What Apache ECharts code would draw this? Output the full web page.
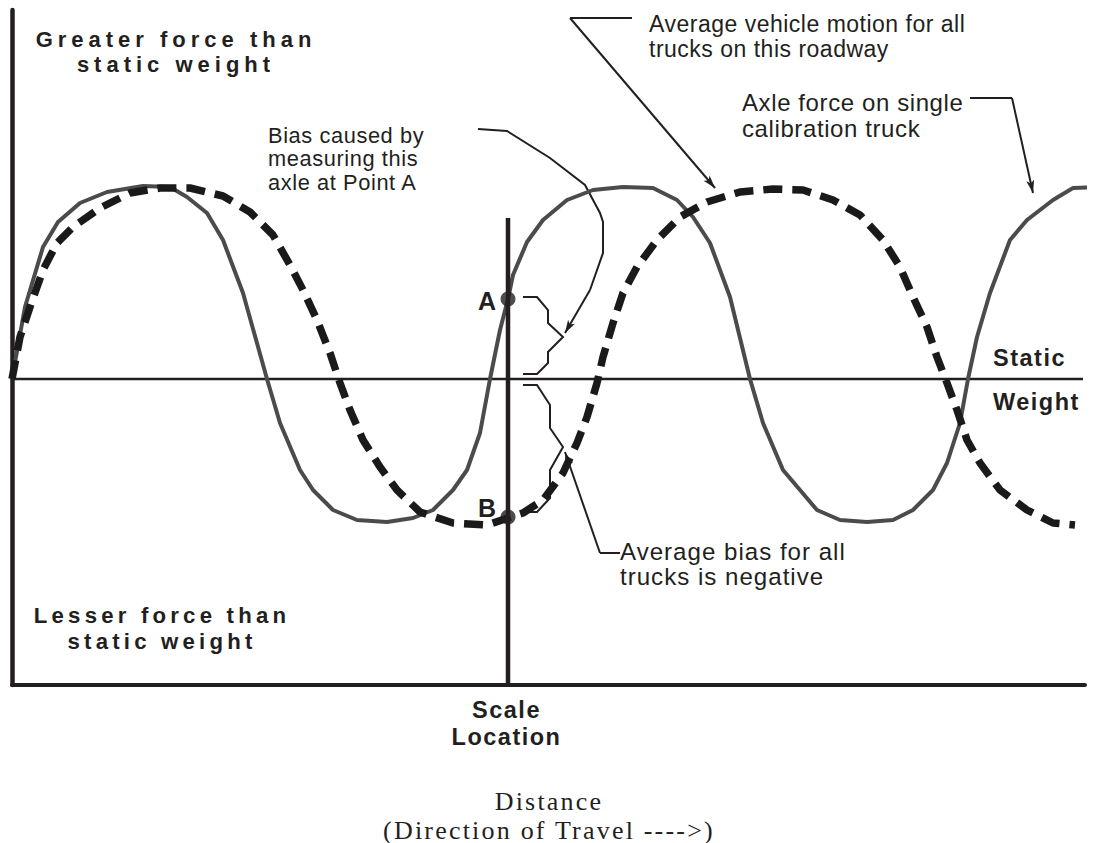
<!DOCTYPE html>
<html>
<head>
<meta charset="utf-8">
<title>Axle force and scale location</title>
<script src="https://cdn.jsdelivr.net/npm/echarts@6/dist/echarts.min.js"></script>
<style>
  html, body { margin: 0; padding: 0; background: #fff; }
  #main { width: 1102px; height: 843px; }
  /* spaced-out lettering like the original pdf, keyed on font size */
  #main text[style*="22px"] { letter-spacing: 5px; }
  #main text[style*="22.2px"] { letter-spacing: 4.2px; }
  #main text[style*="21.8px"] { letter-spacing: 0.6px; }
  #main text[style*="23px"] { letter-spacing: 0.5px; }
  #main text[style*="24px"] { letter-spacing: 0.6px; }
  #main text[style*="24.1px"] { letter-spacing: 1px; }
  #main text[style*="23.5px"] { letter-spacing: 1.5px; }
  #main text[style*="26px"] { letter-spacing: 2.2px; }
</style>
</head>
<body>
<div id="main"></div>
<script>
// distance along the road (x) and force relative to static weight (y)
// axle force on the single calibration truck (solid grey)
var calibDist  = [0,13,31,46,68,95,131,158,175,195,211,231,255,268,288,301,321,345,375,401,421,441,455,468,478,488,496,501,515,531,555,581,611,641,665,681,698,718,738,751,771,788,805,828,855,881,901,921,935,948,956,965,978,998,1015,1041,1061,1088];
var calibForce = [0,72,132,157,176,187,193,192,182,166,139,86,0,-44,-91,-111,-131,-141,-143,-139,-131,-111,-91,-54,0,49,80,104,137,159,179,189,192,191,179,162,136,82,0,-44,-91,-111,-131,-141,-143,-141,-131,-111,-84,-44,0,42,86,139,159,179,191,192];
// average vehicle motion for all trucks (dashed)
var avgDist  = [0,8,18,31,45,61,88,118,148,178,211,238,261,278,291,305,318,328,338,351,368,385,408,441,475,496,511,531,551,565,575,585,591,601,611,625,645,668,695,728,761,791,821,848,871,888,901,915,925,935,945,955,968,988,1015,1041,1063];
var avgForce = [0,42,72,109,136,152,171,186,191,191,183,167,144,114,89,59,26,-4,-31,-61,-88,-111,-133,-144,-146,-139,-134,-121,-94,-64,-38,-4,22,56,86,112,139,162,177,187,190,189,179,164,139,112,82,52,22,-4,-31,-61,-84,-111,-131,-144,-146];

// scale location and the two measured points
var scaleDist = 496;
var scaleTop = 161;
var pointNames = ['A', 'B'];
var pointForce = [80, -138];
var staticEnd = 1071;

// braces and leader lines (data space)
var braceUpper = [[511,82],[525,82],[536,69],[536,56],[551,42],[536,27],[536,16],[525,5],[511,5]];
var braceLower = [[511,-6],[525,-6],[538,-26],[538,-49],[551,-68],[538,-91],[538,-119],[525,-133],[511,-133]];
var leaderBias = [[466,250],[495,248],[538,221],[573,194],[588,166],[591,157],[591,126],[578,89]];
var leaderAvgBias = [[608,-174],[588,-174]];
var leaderMotion = [[620,361],[558,361]];
var leaderAxle = [[958,281],[1000,281]];
var arrowSegs = [
  [[578,89],[553,46]],
  [[588,-174],[553,-73]],
  [[558,361],[703,191]],
  [[1000,281],[1021,186]]
];

function zip(xs, ys) {
  var out = [];
  for (var i = 0; i < xs.length; i++) out.push([xs[i], ys[i]]);
  return out;
}

var ink = '#231f20';
var sans = "'Liberation Sans', Arial, Helvetica, sans-serif";
var serif = "'Liberation Serif', 'Times New Roman', serif";

// text block: y is the top of the block, lh the line height
function txt(s, x, y, size, weight, align, lh, family) {
  return {
    type: 'text', x: x, y: y, silent: true, z: 100,
    style: {
      text: s, fontSize: size, fontWeight: weight || 'normal',
      fontFamily: family || sans, fill: ink, lineHeight: lh || size,
      align: align || 'left', verticalAlign: 'top',
      textAlign: align || 'left', textVerticalAlign: 'top'
    }
  };
}

var chart = echarts.init(document.getElementById('main'), null, { renderer: 'svg' });

var option = {
  animation: false,
  backgroundColor: '#ffffff',
  grid: { left: 12, right: 17, top: 10, bottom: 158 },
  xAxis: {
    type: 'value', min: 0, max: 1073,
    axisLine: { show: true, onZero: false, lineStyle: { color: ink, width: 4 } },
    axisTick: { show: false }, axisLabel: { show: false }, splitLine: { show: false }
  },
  yAxis: {
    type: 'value', min: -306, max: 369,
    axisLine: { show: true, onZero: false, lineStyle: { color: ink, width: 4.5 } },
    axisTick: { show: false }, axisLabel: { show: false }, splitLine: { show: false }
  },
  series: [
    {
      name: 'Static weight', type: 'line', silent: true, showSymbol: false,
      data: [[0, 0], [staticEnd, 0]],
      lineStyle: { color: ink, width: 2.5 }
    },
    {
      name: 'Axle force on single calibration truck', type: 'line', silent: true,
      showSymbol: false, clip: false,
      data: zip(calibDist, calibForce),
      lineStyle: { color: '#4b4b4d', width: 4 }
    },
    {
      name: 'Average vehicle motion', type: 'line', silent: true,
      showSymbol: false, clip: false,
      data: zip(avgDist, avgForce),
      lineStyle: { color: '#1a1a1a', width: 7.5, type: [19, 10], cap: 'butt' }
    },
    {
      name: 'Scale location', type: 'line', silent: true, showSymbol: false,
      data: [[scaleDist, -306], [scaleDist, scaleTop]],
      lineStyle: { color: ink, width: 4.5 }
    },
    {
      type: 'lines', coordinateSystem: 'cartesian2d', polyline: true, silent: true,
      symbol: ['none', 'none'],
      lineStyle: { color: ink, width: 2, opacity: 1, curveness: 0 },
      data: [braceUpper, braceLower, leaderBias, leaderAvgBias, leaderMotion, leaderAxle]
        .map(function (c) { return { coords: c }; })
    },
    {
      type: 'lines', coordinateSystem: 'cartesian2d', silent: true,
      symbol: ['none', 'arrow'], symbolSize: [0, [6, 13]],
      lineStyle: { color: ink, width: 2, opacity: 1, curveness: 0 },
      data: arrowSegs.map(function (c) { return { coords: c }; })
    },
    {
      type: 'scatter', silent: true, symbolSize: 15,
      itemStyle: { color: ink },
      data: pointNames.map(function (n, i) { return [scaleDist, pointForce[i]]; }),
      z: 5
    }
  ],
  graphic: [
    txt('Greater force than\nstatic weight', 176, 26.5, 22, 'bold', 'center', 25),
    txt('Lesser force than\nstatic weight', 162, 602, 22.2, 'bold', 'center', 26),
    txt('Bias caused by\nmeasuring this\naxle at Point A', 268, 123.25, 21.8, 'normal', 'left', 23.5),
    txt('Average vehicle motion for all\ntrucks on this roadway', 649, 11.5, 23, 'normal', 'left', 25),
    txt('Axle force on single\ncalibration truck', 742, 89.7, 24, 'normal', 'left', 26),
    txt('Average bias for all\ntrucks is negative', 620, 539, 24.1, 'normal', 'left', 25),
    txt('Static', 993, 346, 23.5, 'bold'),
    txt('Weight', 993, 390, 23.5, 'bold'),
    txt('Scale\nLocation', 506.5, 696.5, 23.5, 'bold', 'center', 27),
    txt(pointNames[0], 496, 288.5, 25, 'bold', 'right'),
    txt(pointNames[1], 496, 495.5, 25, 'bold', 'right'),
    txt('Distance\n(Direction of Travel ---->)', 549, 786.5, 26, 'normal', 'center', 29, serif)
  ]
};

chart.setOption(option);
</script>
</body>
</html>
